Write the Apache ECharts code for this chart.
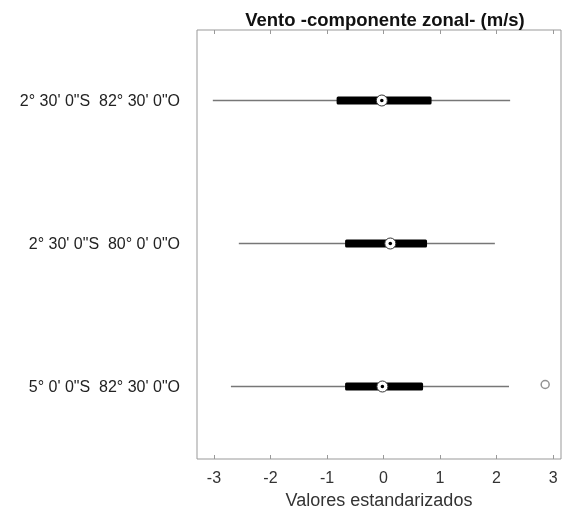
<!DOCTYPE html>
<html>
<head>
<meta charset="utf-8">
<script src="https://cdn.jsdelivr.net/npm/echarts@6/dist/echarts.min.js"></script>
<style>
html,body{margin:0;padding:0;background:#fff;}
#chart{width:563px;height:514px;}
</style>
</head>
<body>
<div id="chart"></div>
<script>
var categories = ['2° 30\' 0"S  82° 30\' 0"O', '2° 30\' 0"S  80° 0\' 0"O', '5° 0\' 0"S  82° 30\' 0"O'];
var whiskerLow = [-3.02, -2.56, -2.70];
var q1 = [-0.83, -0.68, -0.68];
var medians = [-0.03, 0.12, -0.02];
var q3 = [0.85, 0.77, 0.70];
var whiskerHigh = [2.24, 1.97, 2.22];
var outliers = [[2.86, 2]];
var xTicks = [-3, -2, -1, 0, 1, 2, 3];

var boxData = categories.map(function (c, i) {
  return [i, whiskerLow[i], q1[i], medians[i], q3[i], whiskerHigh[i]];
});

var chart = echarts.init(document.getElementById('chart'));
var fontFam = '"Liberation Sans", Arial, sans-serif';
chart.setOption({
  animation: false,
  backgroundColor: '#fff',
  title: {
    text: 'Vento -componente zonal- (m/s)',
    left: 380, top: 6, textAlign: 'center',
    textStyle: { fontFamily: fontFam, fontSize: 18.5, fontWeight: 'bold', color: '#111' }
  },
  grid: { left: 197, right: 2, top: 30, bottom: 55, show: true, borderColor: '#999', borderWidth: 1,
          containLabel: false, outerBoundsMode: 'none' },
  xAxis: [{
    type: 'value', min: -3.3, max: 3.14, interval: 1,
    name: 'Valores estandarizados', nameLocation: 'middle', nameGap: 33,
    nameTextStyle: { fontFamily: fontFam, fontSize: 18, color: '#333' },
    axisLine: { show: false },
    axisTick: { show: true, inside: true, length: 4, lineStyle: { color: '#999' }, customValues: xTicks },
    axisLabel: { fontFamily: fontFam, fontSize: 16, color: '#333', margin: 12, customValues: xTicks },
    splitLine: { show: false }
  }, {
    type: 'value', min: -3.3, max: 3.14, interval: 1, position: 'top',
    axisLine: { show: false },
    axisTick: { show: true, inside: true, length: 4, lineStyle: { color: '#999' }, customValues: xTicks },
    axisLabel: { show: false },
    splitLine: { show: false }
  }],
  yAxis: {
    type: 'category', data: categories, inverse: true,
    axisLine: { show: false }, axisTick: { show: false },
    axisLabel: { fontFamily: fontFam, fontSize: 16, color: '#222', margin: 17 }
  },
  series: [{
    type: 'custom',
    data: boxData,
    encode: { x: [1, 2, 3, 4, 5], y: 0 },
    renderItem: function (params, api) {
      var cat = api.value(0);
      var pLo = api.coord([api.value(1), cat]);
      var pQ1 = api.coord([api.value(2), cat]);
      var pMed = api.coord([api.value(3), cat]);
      var pQ3 = api.coord([api.value(4), cat]);
      var pHi = api.coord([api.value(5), cat]);
      var y = pMed[1] - 1;
      return {
        type: 'group',
        children: [
          { type: 'line', shape: { x1: pLo[0], y1: y, x2: pHi[0], y2: y },
            style: { stroke: '#777', lineWidth: 1.5 } },
          { type: 'rect', shape: { x: pQ1[0], y: y - 4, width: pQ3[0] - pQ1[0], height: 8, r: 1.5 },
            style: { fill: '#000' } },
          { type: 'circle', shape: { cx: pMed[0], cy: y, r: 5.5 },
            style: { fill: '#fff', stroke: '#333', lineWidth: 1 } },
          { type: 'circle', shape: { cx: pMed[0], cy: y, r: 1.8 },
            style: { fill: '#000' } }
        ]
      };
    }
  }, {
    type: 'scatter',
    data: outliers,
    symbol: 'circle', symbolSize: 8,
    symbolOffset: [0, -3],
    itemStyle: { color: '#fff', borderColor: '#777', borderWidth: 1.5 }
  }]
});
</script>
</body>
</html>
